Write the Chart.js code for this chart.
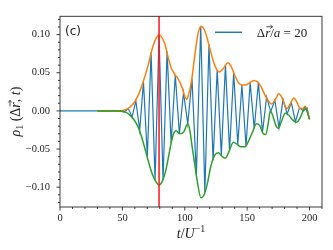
<!DOCTYPE html>
<html>
<head>
<meta charset="utf-8">
<script src="https://cdn.jsdelivr.net/npm/chart.js@4.4.1/dist/chart.umd.min.js"></script>
<style>
  html, body { margin: 0; padding: 0; background: #fff; }
  #wrap { width: 333px; height: 250px; }
</style>
</head>
<body>
<div id="wrap"><canvas id="chart"></canvas></div>
<script>
// signal rho_1 at dr/a = 20 (zigzag between extrema)
const blueT = [0, 48, 51.5, 54.8, 57.8, 60.8, 63.9, 66.9, 70.0, 73.0, 76.2, 79.4, 82.6, 85.8, 89.1, 92.4,
  95.7, 99.0, 102.4, 105.8, 109.3, 112.8, 116.1, 119.4, 122.7, 126.0, 129.3, 132.6, 135.9, 139.2,
  142.5, 145.8, 149.1, 152.4, 155.7, 159.0, 162.3, 165.6, 168.9, 172.2, 175.5, 178.8, 182.1, 185.4,
  188.7, 192.0, 195.0, 198.0, 200.0];
const blueVals = [0, 0, -0.0015, 0.003, -0.008, 0.013, -0.025, 0.038, -0.060, 0.077, -0.091, 0.0995, -0.091, 0.078, -0.042, 0.047,
  -0.030, 0.024, -0.017, 0.042, -0.084, 0.111, -0.107, 0.087, -0.065, 0.054, -0.058, 0.060, -0.052, 0.050,
  -0.044, 0.034, -0.046, 0.037, -0.023, 0.037, -0.028, 0.018, -0.001, 0.014, -0.022, 0.015, -0.004, 0.011,
  -0.014, 0.004, 0.000, 0.004, -0.011];

// upper envelope (orange)
const upperT = [30, 45, 50, 53, 56, 59, 62, 65, 68, 71, 74, 77, 79.4, 81, 84, 87, 89, 92, 95, 98,
  100, 101.5, 103, 105.5, 108, 110.5, 113, 115.5, 118, 121, 124, 127.5, 131, 134.5, 137, 140, 143, 146, 149, 152,
  155.5, 158.5, 161, 164, 167, 169.5, 172, 175.5, 178, 180.5, 182, 184.5, 187.5, 190, 192.5, 194.5, 196.5, 200];
const upperVals = [0, 0, 0.0005, 0.002, 0.005, 0.010, 0.018, 0.030, 0.045, 0.062, 0.082, 0.095, 0.0995, 0.098, 0.088, 0.068, 0.057, 0.048, 0.041, 0.030,
  0.019, 0.015, 0.021, 0.040, 0.072, 0.100, 0.111, 0.107, 0.095, 0.076, 0.060, 0.051, 0.056, 0.063, 0.059, 0.047, 0.037, 0.034, 0.034, 0.037,
  0.040, 0.038, 0.032, 0.022, 0.013, 0.009, 0.013, 0.0225, 0.017, 0.006, 0.003, 0.009, 0.017, 0.011, 0.003, 0.003, 0.006, -0.011];

// lower envelope (green)
const lowerT = [30, 45, 50, 53, 56, 59, 62, 65, 68, 71, 74, 77, 79.4, 82, 84.5, 87, 89, 91, 93, 96,
  99, 102.5, 104, 106, 108, 110, 113, 115.5, 118, 121, 124, 127, 130, 132.5, 135, 139, 142, 145, 148.5, 151,
  154, 157.5, 160, 163, 165, 167, 168.5, 170.5, 173, 175, 177.5, 180.5, 183, 186, 189.5, 192.5, 196.5, 200];
const lowerVals = [0, 0, -0.0005, -0.002, -0.0055, -0.011, -0.019, -0.032, -0.049, -0.067, -0.083, -0.093, -0.097, -0.092, -0.080, -0.060, -0.043, -0.030, -0.026, -0.030,
  -0.028, -0.017, -0.025, -0.048, -0.070, -0.092, -0.114, -0.110, -0.096, -0.072, -0.058, -0.055, -0.060, -0.062, -0.055, -0.041, -0.044, -0.047, -0.047, -0.040,
  -0.029, -0.017, -0.019, -0.030, -0.031, -0.015, 0.000, -0.006, -0.019, -0.023, -0.014, -0.003, -0.005, -0.011, -0.015, -0.009, 0.004, -0.011];

const markT = 79.4;
const xTicks = [0, 50, 100, 150, 200];
const yTicks = [-0.10, -0.05, 0.00, 0.05, 0.10];

const toPts = (ts, vs) => ts.map((t, i) => ({ x: t, y: vs[i] }));
const fmtY = (v) => v.toFixed(2).replace("-", "\u2212");

const SERIF = '"Liberation Serif"';
const UP = "13px " + SERIF;
const IT = "italic 13px " + SERIF;
const TUP = "14px " + SERIF;
const TIT = "italic 14px " + SERIF;
const SM = "10px " + SERIF;

// draws a run of text pieces centred on cx, baseline at by; pieces may carry a vector arrow
function drawRuns(ctx, runs, cx, by) {
  let w = 0;
  runs.forEach((r) => { ctx.font = r.f; w += ctx.measureText(r.s).width; });
  let tx = cx - w / 2;
  runs.forEach((r) => {
    ctx.font = r.f;
    const rw = ctx.measureText(r.s).width;
    ctx.fillText(r.s, tx, by + (r.dy || 0));
    if (r.arrow) {
      const ax = tx + 1.2, ay = by - 10;
      ctx.beginPath();
      ctx.moveTo(ax, ay);
      ctx.lineTo(ax + 6, ay);
      ctx.moveTo(ax + 4, ay - 1.7);
      ctx.lineTo(ax + 6.2, ay);
      ctx.lineTo(ax + 4, ay + 1.7);
      ctx.stroke();
    }
    tx += rw;
  });
}

// red marker, frame, ticks, legend, labels
const decor = {
  id: "decor",
  afterDatasetsDraw(chart) {
    const { ctx, chartArea: a, scales } = chart;
    const x = scales.x, y = scales.y;
    ctx.save();

    const mx = x.getPixelForValue(markT);
    ctx.strokeStyle = "rgba(255,25,25,0.85)";
    ctx.lineWidth = 1.8;
    ctx.beginPath();
    ctx.moveTo(mx, a.top);
    ctx.lineTo(mx, a.bottom);
    ctx.stroke();

    ctx.strokeStyle = "#262626";
    ctx.lineWidth = 0.9;
    ctx.strokeRect(a.left, a.top, a.right - a.left, a.bottom - a.top);

    ctx.beginPath();
    for (let t = 0; t <= 210; t += 10) {
      const px = x.getPixelForValue(t);
      const len = t % 50 === 0 ? 3.5 : 2;
      ctx.moveTo(px, a.bottom);
      ctx.lineTo(px, a.bottom + len);
    }
    for (let k = -12; k <= 12; k++) {
      const py = y.getPixelForValue(k / 100);
      const len = k % 5 === 0 ? 3.5 : 2;
      ctx.moveTo(a.left, py);
      ctx.lineTo(a.left - len, py);
    }
    ctx.stroke();

    // legend
    const lx = a.right - 107, ly = a.top + 16;
    ctx.strokeStyle = "#1f77b4";
    ctx.lineWidth = 1.5;
    ctx.beginPath();
    ctx.moveTo(lx, ly);
    ctx.lineTo(lx + 27, ly);
    ctx.stroke();

    ctx.fillStyle = "#222";
    ctx.strokeStyle = "#222";
    ctx.lineWidth = 0.8;
    ctx.textBaseline = "alphabetic";
    drawRuns(ctx, [
      { s: "\u0394", f: UP }, { s: "r", f: IT, arrow: true }, { s: "/", f: UP },
      { s: "a", f: IT }, { s: " = 20", f: UP }
    ], lx + 38 + 29, ly + 4.5);

    ctx.font = '12px "DejaVu Sans"';
    ctx.fillText("(c)", a.left + 5, a.top + 19);

    // x axis title
    drawRuns(ctx, [
      { s: "t", f: TIT }, { s: "/", f: TUP }, { s: "U", f: TIT }, { s: "\u22121", f: SM, dy: -6 }
    ], (a.left + a.right) / 2, 238);

    // y axis title
    ctx.save();
    ctx.translate(20, (a.top + a.bottom) / 2);
    ctx.rotate(-Math.PI / 2);
    drawRuns(ctx, [
      { s: "\u03C1", f: TIT }, { s: "1", f: SM, dy: 3 }, { s: " (\u0394", f: TUP },
      { s: "r", f: TIT, arrow: true }, { s: ", ", f: TUP }, { s: "t", f: TIT }, { s: ")", f: TUP }
    ], 0, 0);
    ctx.restore();

    ctx.restore();
  }
};

new Chart(document.getElementById("chart"), {
  type: "line",
  data: {
    datasets: [
      { label: "blue", data: toPts(blueT, blueVals), borderColor: "#1f77b4", borderWidth: 1.2,
        pointRadius: 0, tension: 0, order: 3 },
      { label: "upper", data: toPts(upperT, upperVals), borderColor: "#ff7f0e", borderWidth: 1.5,
        pointRadius: 0, cubicInterpolationMode: "monotone", order: 2 },
      { label: "lower", data: toPts(lowerT, lowerVals), borderColor: "#2ca02c", borderWidth: 1.5,
        pointRadius: 0, cubicInterpolationMode: "monotone", order: 1 }
    ]
  },
  options: {
    responsive: true,
    maintainAspectRatio: false,
    animation: false,
    layout: { padding: { top: 10, right: 11, left: 0, bottom: 0 } },
    plugins: { legend: { display: false }, tooltip: { enabled: false } },
    scales: {
      x: {
        type: "linear", min: 0, max: 210,
        grid: { display: false, drawTicks: false },
        border: { display: false },
        afterBuildTicks: (s) => { s.ticks = xTicks.map((v) => ({ value: v })); },
        afterFit: (s) => { s.height = 43; },
        ticks: { padding: 5, color: "#222", maxRotation: 0, font: { family: "Liberation Serif", size: 10.5 },
          callback: (v) => String(v) }
      },
      y: {
        min: -0.126, max: 0.124,
        grid: { display: false, drawTicks: false },
        border: { display: false },
        afterBuildTicks: (s) => { s.ticks = yTicks.map((v) => ({ value: v })); },
        afterFit: (s) => { s.width = 60; },
        ticks: { padding: 10, color: "#222", font: { family: "Liberation Serif", size: 10.5 },
          callback: (v) => fmtY(v) }
      }
    }
  },
  plugins: [decor]
});
</script>
</body>
</html>
